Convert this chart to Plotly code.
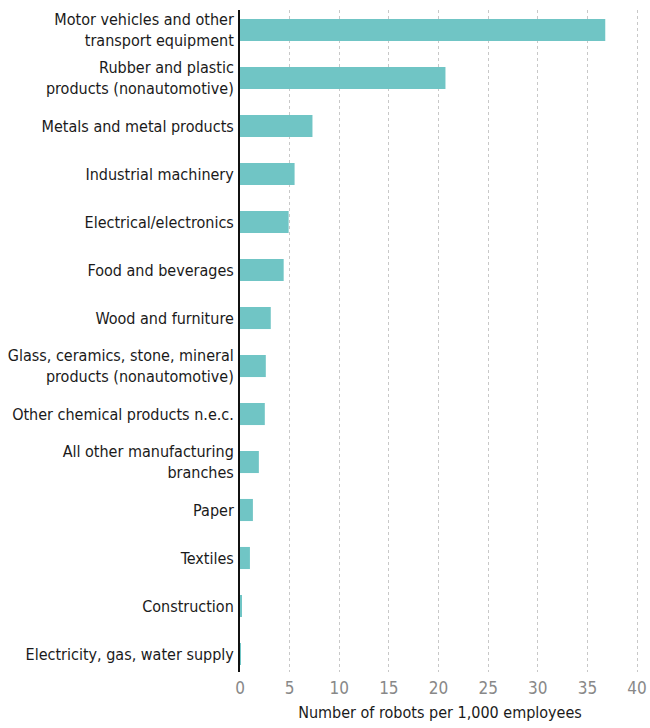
import plotly.graph_objects as go

categories = [
    "Motor vehicles and other<br>transport equipment",
    "Rubber and plastic<br>products (nonautomotive)",
    "Metals and metal products",
    "Industrial machinery",
    "Electrical/electronics",
    "Food and beverages",
    "Wood and furniture",
    "Glass, ceramics, stone, mineral<br>products (nonautomotive)",
    "Other chemical products n.e.c.",
    "All other manufacturing<br>branches",
    "Paper",
    "Textiles",
    "Construction",
    "Electricity, gas, water supply",
]
values = [36.8, 20.7, 7.3, 5.5, 4.9, 4.4, 3.1, 2.6, 2.5, 1.9, 1.3, 1.0, 0.15, 0.01]
x_ticks = [0, 5, 10, 15, 20, 25, 30, 35, 40]

FONT = "DejaVu Sans Condensed, Liberation Sans Narrow, Roboto, sans-serif"

fig = go.Figure(go.Bar(
    x=values, y=categories, orientation="h",
    marker=dict(color="#70c5c5", line=dict(width=0)),
    hoverinfo="x+y",
))

fig.update_layout(
    width=650, height=728,
    margin=dict(l=240, r=10, t=10, b=56),
    plot_bgcolor="white", paper_bgcolor="white",
    bargap=0.54,
    showlegend=False,
    font=dict(family=FONT, size=16, color="#1a1a1a"),
    xaxis=dict(
        range=[0, 40.3], tickvals=x_ticks,
        showgrid=True, gridcolor="#c8c8c8", griddash="dot", gridwidth=1,
        zeroline=False, showline=False, automargin=False,
        tickfont=dict(size=17, color="#888"),
        title=dict(text="Number of robots per 1,000 employees", font=dict(size=16, color="#1a1a1a"), standoff=9),
        ticks="", ticklabelstandoff=4,
    ),
    yaxis=dict(
        categoryorder="array", categoryarray=categories,
        range=[13.375, -0.417], automargin=False,
        showline=True, linecolor="#111", linewidth=2,
        showgrid=False, zeroline=False, ticks="",
        ticklabelstandoff=1,
    ),
)

fig.write_html(
    "out.html",
    config={"displayModeBar": False},
    post_script="document.body.style.margin='0px';document.body.style.overflow='hidden';",
)
